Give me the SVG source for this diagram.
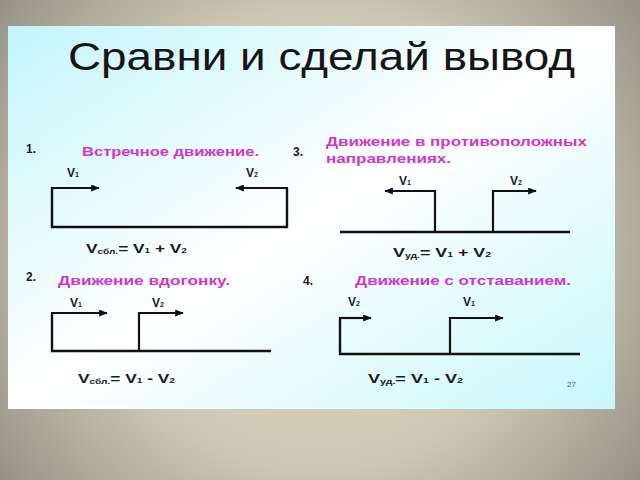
<svg xmlns="http://www.w3.org/2000/svg" width="640" height="480" viewBox="0 0 640 480">
  <defs>
    <radialGradient id="bg" cx="320" cy="240" r="420" gradientUnits="userSpaceOnUse">
      <stop offset="0" stop-color="#e6ddc6"/>
      <stop offset="0.55" stop-color="#cdc6b2"/>
      <stop offset="1" stop-color="#8f8c82"/>
    </radialGradient>
    <linearGradient id="slide" x1="0" y1="0" x2="1" y2="1">
      <stop offset="0" stop-color="#c4f5fa"/>
      <stop offset="0.5" stop-color="#ffffff"/>
      <stop offset="1" stop-color="#c8f7fb"/>
    </linearGradient>
    <marker id="arr" viewBox="0 0 10 8" refX="9" refY="4" markerWidth="9" markerHeight="7" markerUnits="userSpaceOnUse" orient="auto">
      <path d="M0,0 L10,4 L0,8 Z" fill="#111"/>
    </marker>
    <style>
      .ln { fill: none; stroke: #111; stroke-width: 2.4; }
      .ar { fill: none; stroke: #111; stroke-width: 2.2; marker-end: url(#arr); }
      .num { font-family: "Liberation Sans", Arial, sans-serif; font-weight: bold; font-size: 12px; fill: #1a1a1a; }
      .ttl { font-family: "Liberation Sans", Arial, sans-serif; font-weight: bold; font-size: 12px; fill: #cf35cf; }
      .v { font-family: "Liberation Sans", Arial, sans-serif; font-weight: bold; font-size: 12px; fill: #1a1a1a; }
      .sub { font-size: 7px; }
      .f { font-family: "Liberation Sans", Arial, sans-serif; font-weight: bold; font-size: 12px; fill: #1a1a1a; }
    </style>
  </defs>

  <rect x="0" y="0" width="640" height="480" fill="url(#bg)"/>
  <rect x="8" y="26" width="607" height="383" fill="url(#slide)"/>

  <text x="68" y="70" font-family="Liberation Sans, Arial, sans-serif" font-size="38" fill="#151515" textLength="507" lengthAdjust="spacingAndGlyphs">Сравни и сделай вывод</text>

  <!-- Panel 1 -->
  <g id="panel1">
    <text class="num" x="26" y="153">1.</text>
    <text class="ttl" x="82" y="156" textLength="177" lengthAdjust="spacingAndGlyphs">Встречное движение.</text>
    <text class="v" x="67" y="177">V<tspan class="sub">1</tspan></text>
    <text class="v" x="246" y="177">V<tspan class="sub">2</tspan></text>
    <text class="f" x="86" y="253" textLength="101" lengthAdjust="spacingAndGlyphs">V<tspan class="sub" dy="1">сбл.</tspan><tspan dy="-1">= V</tspan><tspan class="sub">1</tspan> + V<tspan class="sub">2</tspan></text>
  </g>

  <!-- Panel 3 -->
  <g id="panel3">
    <text class="num" x="293" y="156">3.</text>
    <text class="ttl" x="326" y="146" textLength="261" lengthAdjust="spacingAndGlyphs">Движение в противоположных</text>
    <text class="ttl" x="326" y="163" textLength="125" lengthAdjust="spacingAndGlyphs">направлениях.</text>
    <text class="v" x="399" y="185">V<tspan class="sub">1</tspan></text>
    <text class="v" x="510" y="185">V<tspan class="sub">2</tspan></text>
    <text class="f" x="393" y="257" textLength="98" lengthAdjust="spacingAndGlyphs">V<tspan class="sub" dy="1">уд.</tspan><tspan dy="-1">= V</tspan><tspan class="sub">1</tspan> + V<tspan class="sub">2</tspan></text>
  </g>

  <!-- Panel 2 -->
  <g id="panel2">
    <text class="num" x="26" y="281">2.</text>
    <text class="ttl" x="58" y="285" textLength="172" lengthAdjust="spacingAndGlyphs">Движение вдогонку.</text>
    <text class="v" x="70" y="307">V<tspan class="sub">1</tspan></text>
    <text class="v" x="152" y="307">V<tspan class="sub">2</tspan></text>
    <text class="f" x="78" y="383" textLength="97" lengthAdjust="spacingAndGlyphs">V<tspan class="sub" dy="1">сбл.</tspan><tspan dy="-1">= V</tspan><tspan class="sub">1</tspan> - V<tspan class="sub">2</tspan></text>
  </g>

  <!-- Panel 4 -->
  <g id="panel4">
    <text class="num" x="303" y="285">4.</text>
    <text class="ttl" x="355" y="285" textLength="216" lengthAdjust="spacingAndGlyphs">Движение с отставанием.</text>
    <text class="v" x="348" y="306">V<tspan class="sub">2</tspan></text>
    <text class="v" x="463" y="306">V<tspan class="sub">1</tspan></text>
    <text class="f" x="368" y="383" textLength="95" lengthAdjust="spacingAndGlyphs">V<tspan class="sub" dy="1">уд.</tspan><tspan dy="-1">= V</tspan><tspan class="sub">1</tspan> - V<tspan class="sub">2</tspan></text>
    <text x="567" y="387" font-family="Liberation Sans, Arial, sans-serif" font-size="8" fill="#555">27</text>
  </g>

  <g id="connectors">
    <!-- panel 1 -->
    <path class="ln" d="M287,188 L287,227 L52,227 L52,188"/>
    <path class="ar" d="M51,188 L99,188"/>
    <path class="ar" d="M288,188 L236,188"/>
    <!-- panel 3 -->
    <path class="ln" d="M340,232 L570,232"/>
    <path class="ar" d="M435,232 L435,191 L385,191"/>
    <path class="ar" d="M493,232 L493,191 L536,191"/>
    <!-- panel 2 -->
    <path class="ln" d="M52,313 L52,351 L271,351"/>
    <path class="ar" d="M51,313 L107,313"/>
    <path class="ar" d="M139,351 L139,313 L183,313"/>
    <!-- panel 4 -->
    <path class="ln" d="M340,318 L340,354 L580,354"/>
    <path class="ar" d="M339,318 L371,318"/>
    <path class="ar" d="M450,354 L450,318 L503,318"/>
  </g>
</svg>
